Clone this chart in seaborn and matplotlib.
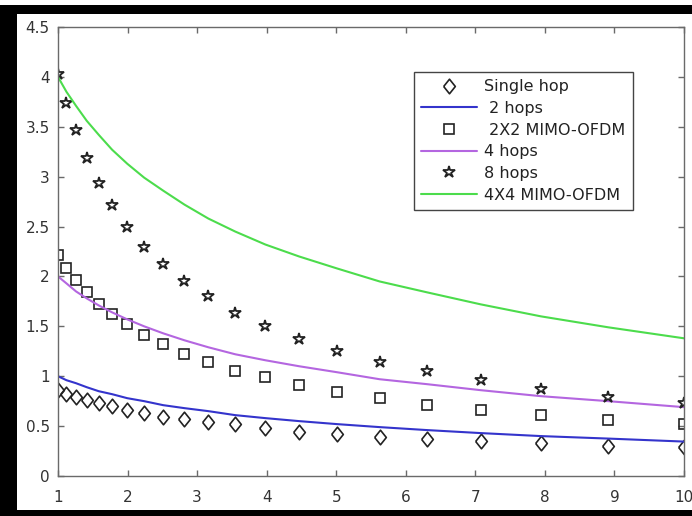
import numpy as np
import pandas as pd
import matplotlib
matplotlib.use("Agg")
import matplotlib.pyplot as plt
from matplotlib.patches import Rectangle
import seaborn as sns

# ---- data ----
x_vals = [1.000, 1.122, 1.259, 1.413, 1.585, 1.778, 1.995, 2.239, 2.512, 2.818,
          3.162, 3.548, 3.981, 4.467, 5.012, 5.623, 6.310, 7.079, 7.943, 8.913, 10.000]

single_hop = [0.86, 0.82, 0.79, 0.76, 0.73, 0.70, 0.66, 0.63, 0.59, 0.57,
              0.54, 0.52, 0.48, 0.44, 0.42, 0.39, 0.37, 0.35, 0.33, 0.30, 0.29]
two_hops = [1.00, 0.96, 0.93, 0.89, 0.85, 0.82, 0.78, 0.75, 0.71, 0.68,
            0.65, 0.61, 0.58, 0.55, 0.52, 0.49, 0.46, 0.43, 0.40, 0.375, 0.345]
mimo_2x2 = [2.21, 2.08, 1.96, 1.84, 1.72, 1.62, 1.52, 1.41, 1.32, 1.22,
            1.14, 1.05, 0.99, 0.91, 0.84, 0.78, 0.71, 0.66, 0.61, 0.56, 0.52]
four_hops = [2.00, 1.93, 1.85, 1.78, 1.71, 1.64, 1.57, 1.50, 1.43, 1.36,
             1.29, 1.22, 1.16, 1.10, 1.04, 0.97, 0.92, 0.86, 0.80, 0.75, 0.69]
eight_hops = [4.03, 3.74, 3.47, 3.19, 2.94, 2.72, 2.50, 2.30, 2.12, 1.95,
              1.80, 1.63, 1.50, 1.37, 1.25, 1.14, 1.05, 0.96, 0.87, 0.79, 0.73]
mimo_4x4 = [4.00, 3.85, 3.71, 3.56, 3.42, 3.27, 3.13, 2.99, 2.86, 2.72,
            2.58, 2.45, 2.32, 2.20, 2.08, 1.95, 1.84, 1.72, 1.60, 1.49, 1.38]

x_ticks = [1, 2, 3, 4, 5, 6, 7, 8, 9, 10]
y_ticks = [0, 0.5, 1, 1.5, 2, 2.5, 3, 3.5, 4, 4.5]
y_tick_labels = ["0", "0.5", "1", "1.5", "2", "2.5", "3", "3.5", "4", "4.5"]

labels = ["Single hop", " 2 hops", " 2X2 MIMO-OFDM", "4 hops", "8 hops", "4X4 MIMO-OFDM"]

df = pd.DataFrame({"x": x_vals, "single": single_hop, "two": two_hops,
                   "m22": mimo_2x2, "four": four_hops, "eight": eight_hops,
                   "m44": mimo_4x4})

sns.set_theme(style="white")
plt.rcParams["font.family"] = ["DejaVu Sans"]

W, H = 692, 516
fig = plt.figure(figsize=(W / 100, H / 100), dpi=100)
ax = fig.add_axes([58 / W, 1 - 476 / H, (684 - 58) / W, (476 - 27) / H])

diamond = [(-0.40, 0.0), (0.0, 0.5), (0.40, 0.0), (0.0, -0.5), (-0.40, 0.0)]
edge = "#222222"

sns.lineplot(data=df, x="x", y="single", ax=ax, label=labels[0], linestyle="",
             marker=diamond, markersize=10.5, markerfacecolor="none",
             markeredgecolor=edge, markeredgewidth=1.2, color=edge)
sns.lineplot(data=df, x="x", y="two", ax=ax, label=labels[1],
             color="#3434cc", linewidth=1.5)
sns.lineplot(data=df, x="x", y="m22", ax=ax, label=labels[2], linestyle="",
             marker="s", markersize=7, markerfacecolor="none",
             markeredgecolor=edge, markeredgewidth=1.2, color=edge)
sns.lineplot(data=df, x="x", y="four", ax=ax, label=labels[3],
             color="#b466e0", linewidth=1.5)
sns.lineplot(data=df, x="x", y="eight", ax=ax, label=labels[4], linestyle="",
             marker="*", markersize=9, markerfacecolor="none",
             markeredgecolor=edge, markeredgewidth=1.3, color=edge)
sns.lineplot(data=df, x="x", y="m44", ax=ax, label=labels[5],
             color="#4cdc4c", linewidth=1.5)

ax.set_xlim(1, 10)
ax.set_ylim(0, 4.5)
ax.set_xticks(x_ticks)
ax.set_xticklabels([str(t) for t in x_ticks])
ax.set_yticks(y_ticks)
ax.set_yticklabels(y_tick_labels)
ax.set_xlabel("")
ax.set_ylabel("")

spine_col = "#6a6a6a"
for s in ax.spines.values():
    s.set_visible(True)
    s.set_color(spine_col)
    s.set_linewidth(1.0)
ax.tick_params(axis="both", direction="in", length=4, width=1.0, color=spine_col,
               top=True, right=True, bottom=True, left=True,
               labelsize=11, labelcolor="#333333")
ax.tick_params(axis="x", pad=10)
ax.tick_params(axis="y", pad=6)

leg = ax.legend(loc="upper left", bbox_to_anchor=((414 - 58) / 626, (476 - 72) / 449),
                borderaxespad=0, fontsize=11.5, frameon=True, fancybox=False,
                shadow=False, handlelength=3.5, handletextpad=0.45,
                labelspacing=0.42, borderpad=0.45, numpoints=1)
leg.get_frame().set_edgecolor("#444444")
leg.get_frame().set_linewidth(1.0)
leg.get_frame().set_facecolor("white")
leg.get_frame().set_alpha(1.0)
for t in leg.get_texts():
    t.set_color("#222222")

# black frame bands of the reference picture
def band(x0, y0, x1, y1):
    fig.patches.append(Rectangle((x0 / W, 1 - y1 / H), (x1 - x0) / W, (y1 - y0) / H,
                                 transform=fig.transFigure, facecolor="black",
                                 edgecolor="none", zorder=10))

band(8, 5, W, 14)
band(0, 5, 17, H)
band(0, 510, W, H)

fig.savefig("out.png", dpi=100)
